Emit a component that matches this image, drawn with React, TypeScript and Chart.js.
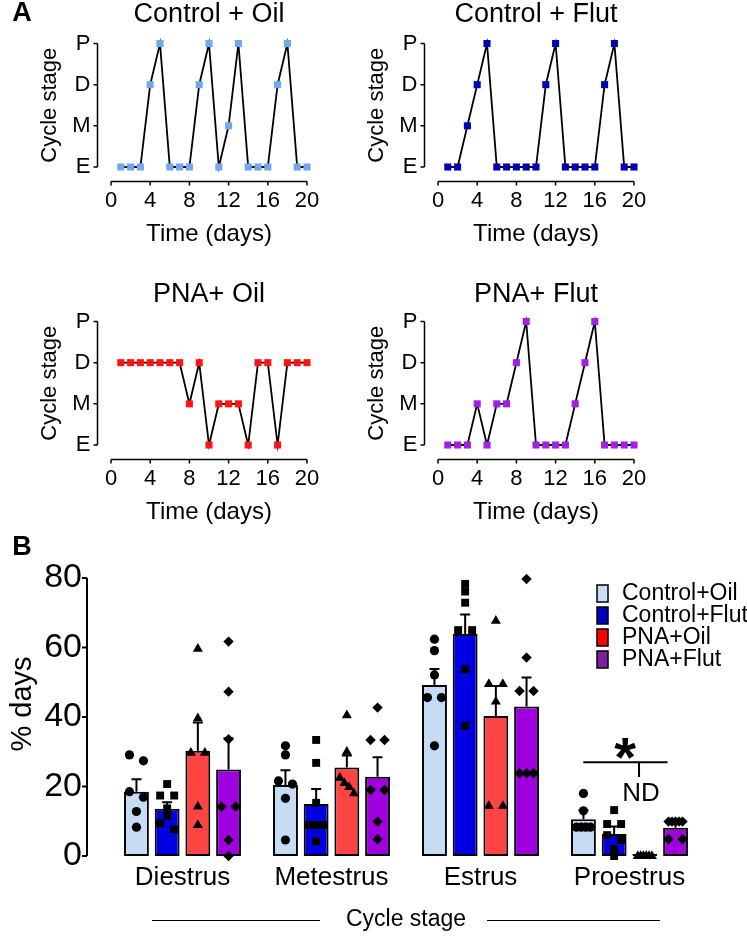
import React, { useEffect, useRef } from 'react';
import { Chart, registerables } from 'chart.js';
Chart.register(...registerables);

const FONT = '"Liberation Sans", Arial, Helvetica, sans-serif';

// ---------- Panel A data ----------
const days = [1, 2, 3, 4, 5, 6, 7, 8, 9, 10, 11, 12, 13, 14, 15, 16, 17, 18, 19, 20];
const stageLabels = ['E', 'M', 'D', 'P'];
const controlOilStages = [0, 0, 0, 2, 3, 0, 0, 0, 2, 3, 0, 1, 3, 0, 0, 0, 2, 3, 0, 0];
const controlFlutStages = [0, 0, 1, 2, 3, 0, 0, 0, 0, 0, 2, 3, 0, 0, 0, 0, 2, 3, 0, 0];
const pnaOilStages = [2, 2, 2, 2, 2, 2, 2, 1, 2, 0, 1, 1, 1, 0, 2, 2, 0, 2, 2, 2];
const pnaFlutStages = [0, 0, 0, 1, 0, 1, 1, 2, 3, 0, 0, 0, 0, 1, 2, 3, 0, 0, 0, 0];

// ---------- Panel B data ----------
const cycleStages = ['Diestrus', 'Metestrus', 'Estrus', 'Proestrus'];
const groupNames = ['Control+Oil', 'Control+Flut', 'PNA+Oil', 'PNA+Flut'];

const controlOilMean = [18.5, 20.4, 49.2, 10.6];
const controlOilSem = [3.6, 4.3, 4.6, 2.6];
const controlFlutMean = [13.6, 15.0, 63.9, 6.3];
const controlFlutSem = [1.9, 4.3, 5.6, 2.2];
const pnaOilMean = [30.3, 25.5, 40.3, 0];
const pnaOilSem = [8.1, 3.4, 8.6, 0];
const pnaFlutMean = [24.9, 22.8, 43.0, 8.1];
const pnaFlutSem = [9.0, 5.6, 8.4, 1.2];

const controlOilPoints = [
  [29.1, 27.4, 18.5, 16.9, 12.8, 8.3],
  [31.7, 29.1, 21.6, 20.7, 16.6, 4.6],
  [62.4, 59.1, 52.1, 45.6, 45.6, 31.7],
  [18.0, 13.0, 8.3, 8.3, 8.3, 8.3],
];
const controlFlutPoints = [
  [20.7, 17.4, 17.4, 13.7, 11.6, 9.4, 7.7],
  [33.4, 26.8, 15.3, 8.9, 8.9, 8.9, 4.2],
  [78.3, 76.1, 72.9, 65.0, 65.0, 53.7, 37.5],
  [13.2, 9.2, 9.2, 6.0, 4.6, 2.0, 0],
];
const pnaOilPoints = [
  [59.6, 39.6, 29.7, 29.7, 14.2, 8.9],
  [40.5, 30.0, 22.5, 21.0, 19.8, 18.0],
  [67.7, 49.5, 49.5, 44.4, 14.4, 14.4],
  [0, 0, 0, 0, 0, 0],
];
const pnaFlutPoints = [
  [61.7, 47.3, 33.6, 14.2, 14.2, 4.6, 0],
  [42.7, 33.4, 33.4, 19.0, 19.0, 9.9, 4.8],
  [79.7, 57.1, 47.5, 47.5, 23.8, 23.8, 23.8],
  [9.9, 9.9, 9.9, 9.9, 9.9, 4.8, 4.8],
];

// ---------- styles ----------
const lineMarkerColors = ['#6FA8EE', '#0000B4', '#FF1414', '#A21FE6'];
const barColors = ['#C6DBF4', '#0000E2', '#FF4444', '#A000DE'];
const legendColors = ['#C9DDF5', '#0000C0', '#FF0000', '#7E1E9E'];
const pointStyles = ['circle', 'rect', 'triangle', 'rectRot'];
const pointRadii = [4.6, 5.6, 5.8, 5.2];

// ---------- Panel A component ----------
const panelAxesPlugin = {
  id: 'panelAxes',
  afterDraw(chart: any, _args: any, opts: any) {
    const { ctx, chartArea } = chart;
    const x = chart.scales.x;
    const y = chart.scales.y;
    ctx.save();
    ctx.strokeStyle = '#000';
    ctx.lineWidth = 1.5;
    ctx.beginPath();
    const ax = chartArea.left - 13.5;
    ctx.moveTo(ax, y.getPixelForValue(y.max));
    ctx.lineTo(ax, y.getPixelForValue(y.min));
    for (const t of y.ticks) {
      const py = y.getPixelForValue(t.value);
      ctx.moveTo(ax - 4, py);
      ctx.lineTo(ax, py);
    }
    const ay = chartArea.bottom + 14.5;
    ctx.moveTo(x.getPixelForValue(x.min), ay);
    ctx.lineTo(x.getPixelForValue(x.max), ay);
    for (const t of x.ticks) {
      const px = x.getPixelForValue(t.value);
      ctx.moveTo(px, ay);
      ctx.lineTo(px, ay + 4);
    }
    ctx.stroke();
    ctx.fillStyle = '#000';
    ctx.textAlign = 'center';
    ctx.textBaseline = 'middle';
    ctx.font = `27px ${FONT}`;
    ctx.fillText(opts.title, (chartArea.left + chartArea.right) / 2, opts.titleY);
    if (opts.letter) {
      ctx.font = `bold 27px ${FONT}`;
      ctx.fillText(opts.letter, 22, 14);
    }
    ctx.restore();
  },
};

const PW = 373;
const PH = 252;

function CyclePanel({ title, stages, color, left, top, titleY, letter }: any) {
  const ref = useRef<HTMLCanvasElement>(null);
  useEffect(() => {
    const chart = new Chart(ref.current as HTMLCanvasElement, {
      type: 'line',
      data: {
        datasets: [
          {
            data: days.map((d, i) => ({ x: d, y: stages[i] })),
            borderColor: '#000',
            borderWidth: 1.8,
            pointStyle: 'rect',
            pointRadius: 5,
            pointBackgroundColor: color,
            pointBorderWidth: 0,
            tension: 0,
            clip: false,
          } as any,
        ],
      },
      options: {
        animation: false,
        responsive: false,
        devicePixelRatio: 1,
        events: [],
        layout: { padding: { left: 0, right: PW - 307, top: 43.5, bottom: 0 } },
        plugins: {
          legend: { display: false },
          tooltip: { enabled: false },
          panelAxes: { title, titleY, letter },
        } as any,
        scales: {
          x: {
            type: 'linear',
            min: 0,
            max: 20,
            border: { display: false },
            grid: { display: false, drawTicks: false },
            ticks: { stepSize: 4, padding: 20.3, color: '#000', font: { family: FONT, size: 22 } },
            title: {
              display: true,
              text: 'Time (days)',
              color: '#000',
              font: { family: FONT, size: 24 },
              padding: { top: 0, bottom: 3 },
            },
            afterFit: (s: any) => {
              s.height = PH - 167;
            },
          },
          y: {
            type: 'linear',
            min: 0,
            max: 3,
            border: { display: false },
            grid: { display: false, drawTicks: false },
            ticks: {
              stepSize: 1,
              padding: 20.5,
              color: '#000',
              font: { family: FONT, size: 22 },
              callback: (v: any) => stageLabels[v],
            },
            title: {
              display: true,
              text: 'Cycle stage',
              color: '#000',
              font: { family: FONT, size: 22 },
              padding: { top: 36.4, bottom: 0 },
            },
            afterFit: (s: any) => {
              s.width = 111;
            },
          },
        } as any,
      },
      plugins: [panelAxesPlugin],
    });
    return () => chart.destroy();
  }, []);
  return (
    <canvas
      ref={ref}
      width={PW}
      height={PH}
      style={{ position: 'absolute', left, top, width: PW, height: PH }}
    />
  );
}

// ---------- Panel B ----------
const BW = 747;
const BH = 408;
const PAD_L = 108;
const PAD_R = BW - 704;
const PAD_T = 48;
const PAD_B = BH - 326;
const CAT_PCT = 0.824;
const BAR_PCT = 0.81;
const CAT_PX = 149; // approx px per category (for jitter conversion)
const Y_PX_PER_UNIT = 278 / 80;

function spreadOffsets(values: number[]): number[] {
  const order = values.map((_, i) => i).sort((a, b) => values[b] - values[a]);
  const offs = new Array(values.length).fill(0);
  let cluster: number[] = [];
  const flush = () => {
    const n = cluster.length;
    const s = n > 1 ? Math.min(14, 14 / (n - 1)) : 0;
    cluster.forEach((id, k) => {
      offs[id] = (k - (n - 1) / 2) * s;
    });
    cluster = [];
  };
  for (const id of order) {
    if (cluster.length) {
      const prev = cluster[cluster.length - 1];
      if ((values[prev] - values[id]) * Y_PX_PER_UNIT >= 6.5) flush();
    }
    cluster.push(id);
  }
  flush();
  return offs;
}

function scatterData(points: number[][], groupIndex: number) {
  const slot = CAT_PCT / 4;
  const groupOffset = -CAT_PCT / 2 + slot * (groupIndex + 0.5);
  const out: any[] = [];
  points.forEach((vals, ci) => {
    const offs = spreadOffsets(vals);
    vals.forEach((v, k) => {
      out.push({ x: ci + groupOffset + offs[k] / CAT_PX, y: v });
    });
  });
  return out;
}

const means = [controlOilMean, controlFlutMean, pnaOilMean, pnaFlutMean];
const sems = [controlOilSem, controlFlutSem, pnaOilSem, pnaFlutSem];
const allPoints = [controlOilPoints, controlFlutPoints, pnaOilPoints, pnaFlutPoints];

const barDecorPlugin = {
  id: 'barDecor',
  beforeDatasetsDraw(chart: any) {
    const { ctx } = chart;
    const y = chart.scales.y;
    ctx.save();
    ctx.strokeStyle = '#000';
    ctx.lineWidth = 2;
    for (let j = 0; j < 4; j++) {
      const meta = chart.getDatasetMeta(j);
      meta.data.forEach((el: any, i: number) => {
        const sem = sems[j][i];
        if (!sem) return;
        const top = y.getPixelForValue(means[j][i] + sem);
        ctx.beginPath();
        ctx.moveTo(el.x, el.y);
        ctx.lineTo(el.x, top);
        ctx.moveTo(el.x - 5, top);
        ctx.lineTo(el.x + 5, top);
        ctx.stroke();
      });
    }
    ctx.restore();
  },
  afterDraw(chart: any) {
    const { ctx, chartArea } = chart;
    const y = chart.scales.y;
    const x = chart.scales.x;
    ctx.save();
    ctx.strokeStyle = '#000';
    ctx.fillStyle = '#000';
    // y axis
    ctx.lineWidth = 2;
    const ax = chartArea.left - 21;
    ctx.beginPath();
    ctx.moveTo(ax, y.getPixelForValue(y.max));
    ctx.lineTo(ax, y.getPixelForValue(y.min));
    for (const t of y.ticks) {
      const py = y.getPixelForValue(t.value);
      ctx.moveTo(ax - 5, py);
      ctx.lineTo(ax, py);
    }
    ctx.stroke();
    // y title
    ctx.save();
    ctx.translate(23, (y.getPixelForValue(y.max) + y.getPixelForValue(y.min)) / 2 - 13);
    ctx.rotate(-Math.PI / 2);
    ctx.textAlign = 'center';
    ctx.textBaseline = 'middle';
    ctx.font = `29px ${FONT}`;
    ctx.fillText('% days', 0, 0);
    ctx.restore();
    // letter
    ctx.textAlign = 'center';
    ctx.textBaseline = 'middle';
    ctx.font = `bold 27px ${FONT}`;
    ctx.fillText('B', 22, 18);
    // x title side lines
    const tcx = (x.left + x.right) / 2;
    const tcy = x.bottom - 4.2 - 13.8;
    ctx.lineWidth = 1;
    ctx.beginPath();
    ctx.moveTo(tcx - 254, tcy + 0.5);
    ctx.lineTo(tcx - 86, tcy + 0.5);
    ctx.moveTo(tcx + 81, tcy + 0.5);
    ctx.lineTo(tcx + 254, tcy + 0.5);
    ctx.stroke();
    // significance annotation (category axis accepts fractional index values)
    ctx.lineWidth = 2;
    const sy = y.getPixelForValue(27.0);
    ctx.beginPath();
    ctx.moveTo(x.getPixelForValue(2.69), sy);
    ctx.lineTo(x.getPixelForValue(3.255), sy);
    const vx = x.getPixelForValue(3.064);
    ctx.moveTo(vx, sy);
    ctx.lineTo(vx, y.getPixelForValue(22.7));
    ctx.stroke();
    ctx.font = `bold 56px ${FONT}`;
    ctx.textBaseline = 'alphabetic';
    const m = ctx.measureText('*');
    const scx = x.getPixelForValue(2.97);
    const scy = y.getPixelForValue(30.8);
    const base = scy + (m.actualBoundingBoxAscent - m.actualBoundingBoxDescent) / 2;
    ctx.fillText('*', scx, base);
    ctx.font = `26px ${FONT}`;
    ctx.textBaseline = 'middle';
    ctx.fillText('ND', x.getPixelForValue(3.077), y.getPixelForValue(17.8));
    // legend
    ctx.textAlign = 'left';
    ctx.font = `23px ${FONT}`;
    ctx.lineWidth = 1.5;
    for (let k = 0; k < 4; k++) {
      const cy = 63.5 + 22 * k;
      ctx.fillStyle = legendColors[k];
      ctx.fillRect(597, cy - 8.5, 11, 17);
      ctx.strokeRect(597, cy - 8.5, 11, 17);
      ctx.fillStyle = '#000';
      ctx.fillText(groupNames[k], 622, cy);
    }
    ctx.restore();
  },
};

function BarPanel() {
  const ref = useRef<HTMLCanvasElement>(null);
  const ref2 = useRef<HTMLCanvasElement>(null);
  useEffect(() => {
    const barSets = means.map((m, j) => ({
      label: groupNames[j],
      data: m,
      backgroundColor: barColors[j],
      borderColor: '#000',
      borderWidth: 2,
      borderSkipped: false,
      categoryPercentage: CAT_PCT,
      barPercentage: BAR_PCT,
      minBarLength: 2,
    }));
    const chart = new Chart(ref.current as HTMLCanvasElement, {
      type: 'bar',
      data: { labels: cycleStages, datasets: barSets as any },
      options: {
        animation: false,
        responsive: false,
        devicePixelRatio: 1,
        events: [],
        layout: { padding: { left: 0, right: PAD_R, top: PAD_T, bottom: 0 } },
        plugins: { legend: { display: false }, tooltip: { enabled: false } },
        scales: {
          x: {
            type: 'category',
            offset: true,
            border: { display: false },
            grid: { display: false, drawTicks: false },
            ticks: { padding: 6, color: '#000', font: { family: FONT, size: 26 } },
            title: {
              display: true,
              text: 'Cycle stage',
              color: '#000',
              font: { family: FONT, size: 23 },
              padding: { top: 0, bottom: 4.2 },
            },
            afterFit: (s: any) => {
              s.height = PAD_B;
            },
          },
          y: {
            type: 'linear',
            min: 0,
            max: 80,
            border: { display: false },
            grid: { display: false, drawTicks: false },
            ticks: { stepSize: 20, padding: 26, color: '#000', font: { family: FONT, size: 34 } },
            afterFit: (s: any) => {
              s.width = PAD_L;
            },
          },
        } as any,
      },
      plugins: [barDecorPlugin],
    });
    // individual animals, same plotting area, drawn on top
    const pointSets = allPoints.map((p, j) => ({
      label: groupNames[j] + ' animals',
      data: scatterData(p, j),
      pointStyle: pointStyles[j],
      pointRadius: pointRadii[j],
      backgroundColor: '#000',
      borderColor: '#000',
      borderWidth: 0,
      clip: false,
    }));
    const pts = new Chart(ref2.current as HTMLCanvasElement, {
      type: 'scatter',
      data: { datasets: pointSets as any },
      options: {
        animation: false,
        responsive: false,
        devicePixelRatio: 1,
        events: [],
        layout: { padding: { left: PAD_L, right: PAD_R, top: PAD_T, bottom: PAD_B } },
        plugins: { legend: { display: false }, tooltip: { enabled: false } },
        scales: {
          x: { type: 'linear', min: -0.5, max: 3.5, display: false },
          y: { type: 'linear', min: 0, max: 80, display: false },
        } as any,
      },
    });
    return () => {
      chart.destroy();
      pts.destroy();
    };
  }, []);
  const st: any = { position: 'absolute', left: 0, top: 530, width: BW, height: BH };
  return (
    <>
      <canvas ref={ref} width={BW} height={BH} style={st} />
      <canvas ref={ref2} width={BW} height={BH} style={st} />
    </>
  );
}

export default function App() {
  return (
    <div
      style={{
        position: 'fixed',
        left: 0,
        top: 0,
        width: 747,
        height: 938,
        background: '#fff',
        overflow: 'hidden',
      }}
    >
      <CyclePanel title="Control + Oil" stages={controlOilStages} color={lineMarkerColors[0]} left={0} top={0} titleY={15} letter="A" />
      <CyclePanel title="Control + Flut" stages={controlFlutStages} color={lineMarkerColors[1]} left={327} top={0} titleY={15} />
      <CyclePanel title="PNA+ Oil" stages={pnaOilStages} color={lineMarkerColors[2]} left={0} top={278} titleY={17} />
      <CyclePanel title="PNA+ Flut" stages={pnaFlutStages} color={lineMarkerColors[3]} left={327} top={278} titleY={17} />
      <BarPanel />
    </div>
  );
}
